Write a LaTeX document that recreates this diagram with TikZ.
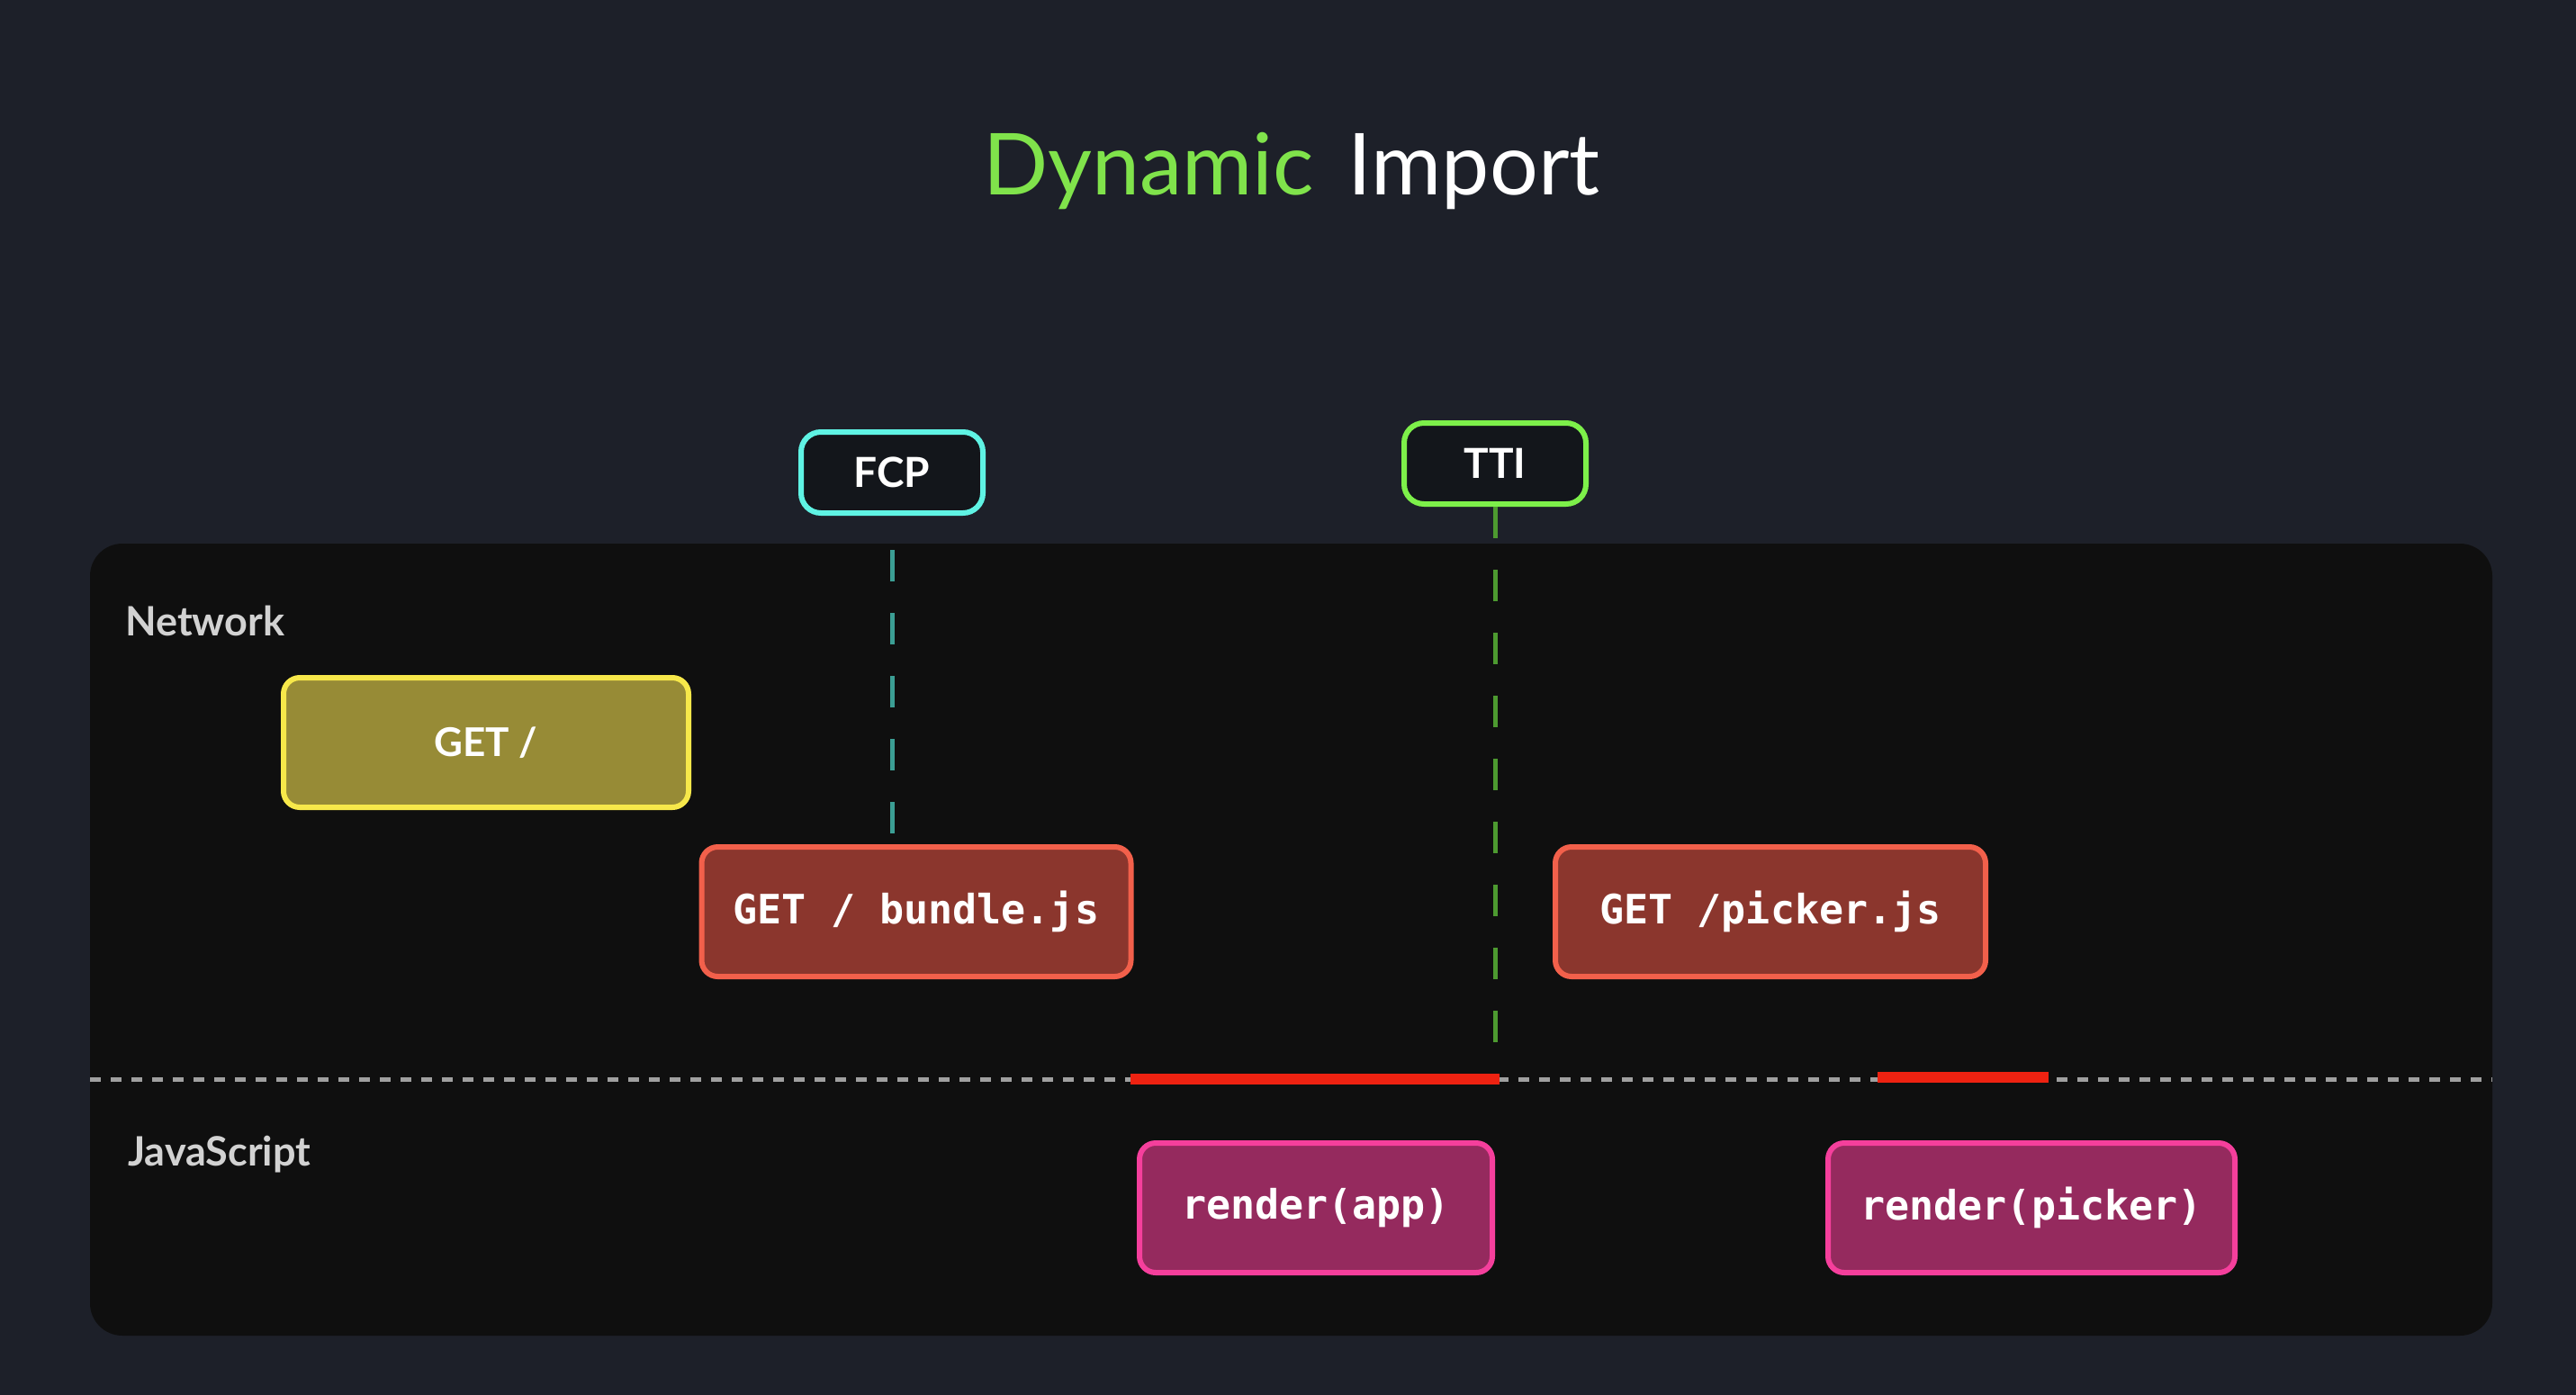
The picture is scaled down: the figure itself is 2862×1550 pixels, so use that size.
\documentclass[tikz,border=0pt]{standalone}
\usepackage{fontspec}
\setmainfont{Lato}
\newfontfamily\codefont{DejaVu Sans Mono}

\definecolor{bgnavy}{HTML}{1D2029}
\definecolor{panelblack}{HTML}{0F0F0F}
\definecolor{titlegreen}{HTML}{80E34B}
\definecolor{lanegray}{HTML}{D2D2D2}
\definecolor{markfill}{HTML}{13161B}
\definecolor{fcpcyan}{HTML}{5FF3E4}
\definecolor{fcpdash}{HTML}{3B9E94}
\definecolor{ttigreen}{HTML}{7DF04A}
\definecolor{ttidash}{HTML}{4D9A30}
\definecolor{docfill}{HTML}{978B36}
\definecolor{docdraw}{HTML}{F7E84A}
\definecolor{jsfill}{HTML}{8B362D}
\definecolor{jsdraw}{HTML}{F2604B}
\definecolor{runfill}{HTML}{952A5E}
\definecolor{rundraw}{HTML}{F53F9C}
\definecolor{busyred}{HTML}{EE2211}
\definecolor{sepgray}{HTML}{A0A0A0}

\tikzset{
  reqbox/.style={draw, line width=6pt, rounded corners=18pt, minimum height=144pt,
    inner sep=0pt, text=white, font=\codefont\bfseries\fontsize{45}{54}\selectfont},
  marker/.style={draw, line width=6pt, rounded corners=22pt, fill=markfill,
    minimum width=202pt, minimum height=90pt, inner sep=0pt, text=white,
    font=\bfseries\fontsize{46}{56}\selectfont},
  lane/.style={anchor=west, inner sep=0pt, text=lanegray, font=\bfseries\fontsize{45}{54}\selectfont},
  milestone/.style={line width=5pt, dash pattern=on 35pt off 35pt},
  busy/.style={busyred, line width=12pt},
}

\begin{document}
\begin{tikzpicture}[x=1pt,y=-1pt]
\useasboundingbox (0,0) rectangle (2862,1550);
\fill[bgnavy] (0,0) rectangle (2862,1550);
\fill[panelblack, rounded corners=36pt] (100,604) rectangle (2769,1484);

\node (Title) at (1435,190) {\fontsize{95}{110}\selectfont\textcolor{titlegreen}{Dynamic}\hspace{0.4em}\textcolor{white}{Import}};

\node[lane] (Net) at (139,690) {Network};
\node[lane] (JS) at (142,1283) {JavaScript};

\node[marker, draw=fcpcyan] (FCP) at (991,525) {FCP};
\node[marker, draw=ttigreen] (TTI) at (1661,515) {TTI};

\node[reqbox, draw=docdraw, fill=docfill, minimum width=450pt, font=\bfseries\fontsize{44}{54}\selectfont] (GET) at (540,825) {GET /};
\node[reqbox, draw=jsdraw, fill=jsfill, minimum width=477pt] (Bundle) at (1018,1013) {GET / bundle.js};
\node[reqbox, draw=jsdraw, fill=jsfill, minimum width=478pt] (Picker) at (1967,1013) {GET /picker.js};
\node[reqbox, draw=rundraw, fill=runfill, minimum width=392pt] (RApp) at (1462,1342) {render(app)};
\node[reqbox, draw=rundraw, fill=runfill, minimum width=452pt] (RPicker) at (2257,1342) {render(picker)};

% lane separator
\coordinate (sepL) at (100,1199);
\coordinate (sepR) at (2769,1199);
\draw[sepgray, line width=5pt, dash pattern=on 12pt off 11pt] (sepL) -- (sepR);

% main thread busy
\coordinate (appBusyA) at (1256,1199);
\coordinate (appBusyB) at (TTI |- sepL);
\coordinate (pickBusyA) at (2086,1197);
\coordinate (pickBusyB) at (2276,1197);
\draw[busy] (appBusyA) -- ([xshift=5pt]appBusyB);
\draw[busy] (pickBusyA) -- (pickBusyB);

\draw[milestone, fcpdash, shorten <=38pt] (FCP.south) -- (FCP.south |- Bundle.north);
\draw[milestone, ttidash, shorten >=14pt] (TTI.south) -- (appBusyB);
\end{tikzpicture}
\end{document}
